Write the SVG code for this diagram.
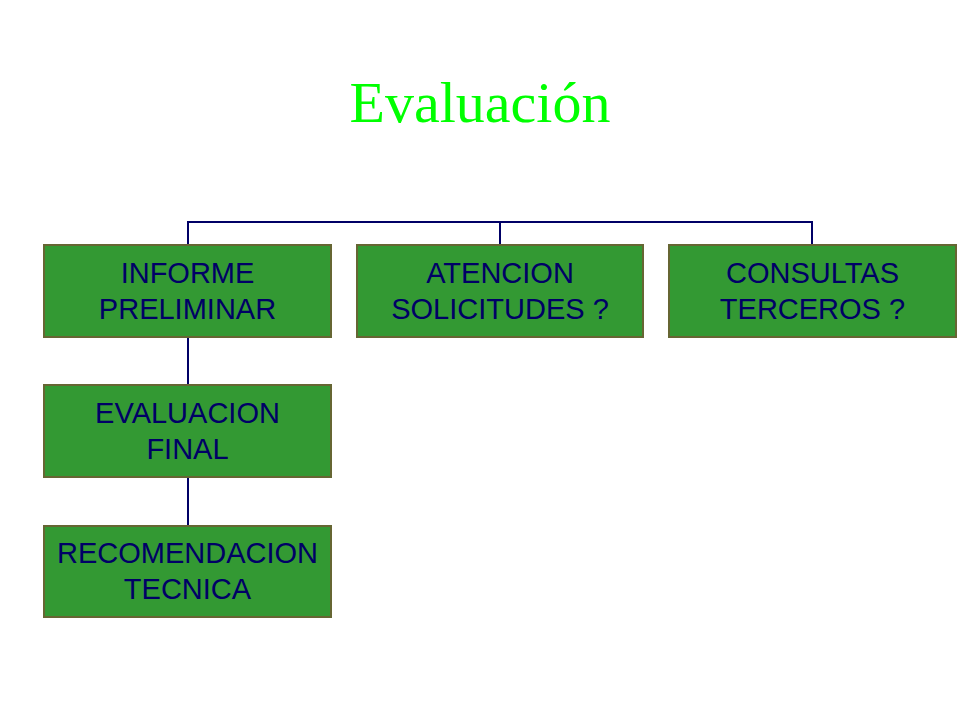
<svg xmlns="http://www.w3.org/2000/svg" width="960" height="720" viewBox="0 0 960 720">
<style>
.box{fill:#339933;stroke:#666633;stroke-width:2}
.lbl{font-family:"Liberation Sans",Arial,sans-serif;font-size:29px;fill:#000066;text-anchor:middle}
.conn{stroke:#000066;stroke-width:2;fill:none}
</style>
<rect width="960" height="720" fill="#ffffff"/>
<text x="480" y="122" font-family="'Liberation Serif','Times New Roman',serif" font-size="58" fill="#00ff00" text-anchor="middle">Evaluación</text>
<g id="connectors">
<path class="conn" d="M188,245 V222 H812 V245"/>
<path class="conn" d="M500,222 V245"/>
<path class="conn" d="M188,337 V385"/>
<path class="conn" d="M188,477 V526"/>
</g>
<g id="informe">
<rect class="box" x="44" y="245" width="287" height="92"/>
<text class="lbl" x="187.5" y="283">INFORME</text>
<text class="lbl" x="187.5" y="319">PRELIMINAR</text>
</g>
<g id="atencion">
<rect class="box" x="357" y="245" width="286" height="92"/>
<text class="lbl" x="500" y="283">ATENCION</text>
<text class="lbl" x="500" y="319">SOLICITUDES ?</text>
</g>
<g id="consultas">
<rect class="box" x="669" y="245" width="287" height="92"/>
<text class="lbl" x="812.5" y="283">CONSULTAS</text>
<text class="lbl" x="812.5" y="319">TERCEROS ?</text>
</g>
<g id="evaluacion">
<rect class="box" x="44" y="385" width="287" height="92"/>
<text class="lbl" x="187.5" y="423">EVALUACION</text>
<text class="lbl" x="187.5" y="459">FINAL</text>
</g>
<g id="recomendacion">
<rect class="box" x="44" y="526" width="287" height="91"/>
<text class="lbl" x="187.5" y="563">RECOMENDACION</text>
<text class="lbl" x="187.5" y="599">TECNICA</text>
</g>
</svg>
